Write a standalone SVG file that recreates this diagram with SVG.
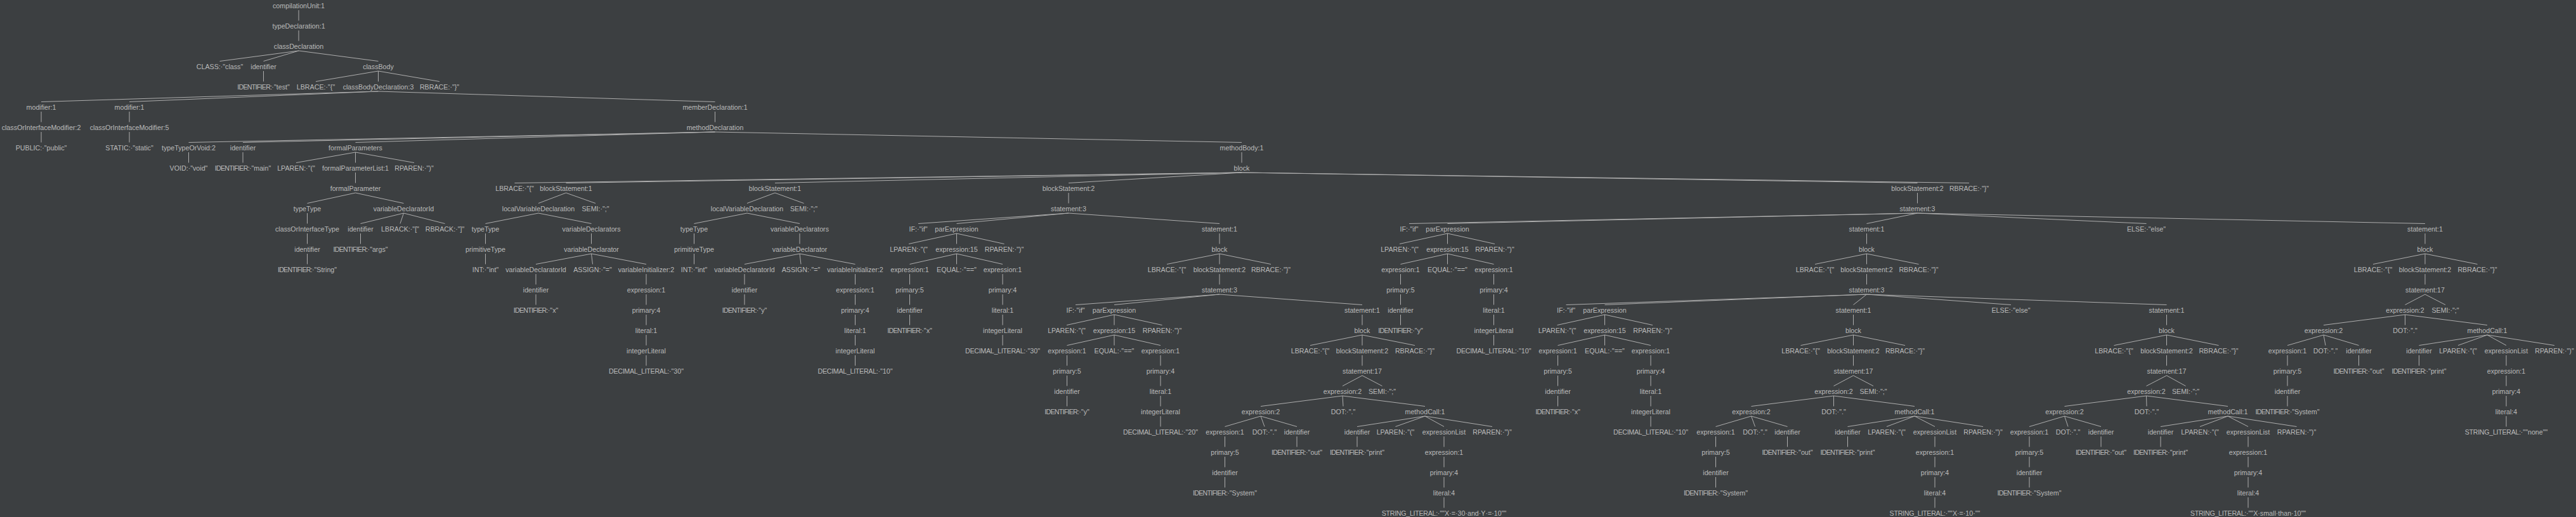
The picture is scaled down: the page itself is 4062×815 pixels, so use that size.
<svg xmlns="http://www.w3.org/2000/svg" width="4062" height="815" viewBox="0 0 4062 815">
<style>
text{font-family:"Liberation Sans",Arial,sans-serif;font-size:10.7px;fill:#bbbbbb;text-anchor:middle}
.i{letter-spacing:-0.75px}
.l{letter-spacing:-0.3px}
#edges line{stroke:#aeaeae;stroke-width:1}
</style>
<rect x="0" y="0" width="4062" height="815" fill="#3c3f41"/>
<g id="edges">
<line x1="471" y1="16" x2="471" y2="32.5"/>
<line x1="471" y1="48" x2="471" y2="64.5"/>
<line x1="471" y1="80" x2="346.5" y2="96.5"/>
<line x1="471" y1="80" x2="415.5" y2="96.5"/>
<line x1="471" y1="80" x2="596.5" y2="96.5"/>
<line x1="415.5" y1="112" x2="415.5" y2="128.5"/>
<line x1="596.5" y1="112" x2="498" y2="128.5"/>
<line x1="596.5" y1="112" x2="596.5" y2="128.5"/>
<line x1="596.5" y1="112" x2="693" y2="128.5"/>
<line x1="596.5" y1="144" x2="65" y2="160.5"/>
<line x1="596.5" y1="144" x2="204" y2="160.5"/>
<line x1="596.5" y1="144" x2="1127.5" y2="160.5"/>
<line x1="65" y1="176" x2="65" y2="192.5"/>
<line x1="204" y1="176" x2="204" y2="192.5"/>
<line x1="1127.5" y1="176" x2="1127.5" y2="192.5"/>
<line x1="65" y1="208" x2="65" y2="224.5"/>
<line x1="204" y1="208" x2="204" y2="224.5"/>
<line x1="1127.5" y1="208" x2="297.5" y2="224.5"/>
<line x1="1127.5" y1="208" x2="383" y2="224.5"/>
<line x1="1127.5" y1="208" x2="560.5" y2="224.5"/>
<line x1="1127.5" y1="208" x2="1958" y2="224.5"/>
<line x1="297.5" y1="240" x2="297.5" y2="256.5"/>
<line x1="383" y1="240" x2="383" y2="256.5"/>
<line x1="560.5" y1="240" x2="467" y2="256.5"/>
<line x1="560.5" y1="240" x2="560.5" y2="256.5"/>
<line x1="560.5" y1="240" x2="653" y2="256.5"/>
<line x1="1958" y1="240" x2="1958" y2="256.5"/>
<line x1="560.5" y1="272" x2="560.5" y2="288.5"/>
<line x1="1958" y1="272" x2="811.5" y2="288.5"/>
<line x1="1958" y1="272" x2="892.5" y2="288.5"/>
<line x1="1958" y1="272" x2="1222" y2="288.5"/>
<line x1="1958" y1="272" x2="1685" y2="288.5"/>
<line x1="1958" y1="272" x2="3023.5" y2="288.5"/>
<line x1="1958" y1="272" x2="3105" y2="288.5"/>
<line x1="560.5" y1="304" x2="484.5" y2="320.5"/>
<line x1="560.5" y1="304" x2="636.5" y2="320.5"/>
<line x1="892.5" y1="304" x2="849" y2="320.5"/>
<line x1="892.5" y1="304" x2="939" y2="320.5"/>
<line x1="1222" y1="304" x2="1178" y2="320.5"/>
<line x1="1222" y1="304" x2="1267.5" y2="320.5"/>
<line x1="1685" y1="304" x2="1685" y2="320.5"/>
<line x1="3023.5" y1="304" x2="3023.5" y2="320.5"/>
<line x1="484.5" y1="336" x2="484.5" y2="352.5"/>
<line x1="636.5" y1="336" x2="568.5" y2="352.5"/>
<line x1="636.5" y1="336" x2="631" y2="352.5"/>
<line x1="636.5" y1="336" x2="701.5" y2="352.5"/>
<line x1="849" y1="336" x2="765.5" y2="352.5"/>
<line x1="849" y1="336" x2="932.5" y2="352.5"/>
<line x1="1178" y1="336" x2="1094.5" y2="352.5"/>
<line x1="1178" y1="336" x2="1261" y2="352.5"/>
<line x1="1685" y1="336" x2="1448" y2="352.5"/>
<line x1="1685" y1="336" x2="1508.5" y2="352.5"/>
<line x1="1685" y1="336" x2="1923" y2="352.5"/>
<line x1="3023.5" y1="336" x2="2222" y2="352.5"/>
<line x1="3023.5" y1="336" x2="2282.5" y2="352.5"/>
<line x1="3023.5" y1="336" x2="2943.5" y2="352.5"/>
<line x1="3023.5" y1="336" x2="3384.5" y2="352.5"/>
<line x1="3023.5" y1="336" x2="3824" y2="352.5"/>
<line x1="484.5" y1="368" x2="484.5" y2="384.5"/>
<line x1="568.5" y1="368" x2="568.5" y2="384.5"/>
<line x1="765.5" y1="368" x2="765.5" y2="384.5"/>
<line x1="932.5" y1="368" x2="932.5" y2="384.5"/>
<line x1="1094.5" y1="368" x2="1094.5" y2="384.5"/>
<line x1="1261" y1="368" x2="1261" y2="384.5"/>
<line x1="1508.5" y1="368" x2="1433" y2="384.5"/>
<line x1="1508.5" y1="368" x2="1508.5" y2="384.5"/>
<line x1="1508.5" y1="368" x2="1583.5" y2="384.5"/>
<line x1="1923" y1="368" x2="1923" y2="384.5"/>
<line x1="2282.5" y1="368" x2="2207" y2="384.5"/>
<line x1="2282.5" y1="368" x2="2282.5" y2="384.5"/>
<line x1="2282.5" y1="368" x2="2357" y2="384.5"/>
<line x1="2943.5" y1="368" x2="2943.5" y2="384.5"/>
<line x1="3824" y1="368" x2="3824" y2="384.5"/>
<line x1="484.5" y1="400" x2="484.5" y2="416.5"/>
<line x1="765.5" y1="400" x2="765.5" y2="416.5"/>
<line x1="932.5" y1="400" x2="845" y2="416.5"/>
<line x1="932.5" y1="400" x2="934.5" y2="416.5"/>
<line x1="932.5" y1="400" x2="1019" y2="416.5"/>
<line x1="1094.5" y1="400" x2="1094.5" y2="416.5"/>
<line x1="1261" y1="400" x2="1174" y2="416.5"/>
<line x1="1261" y1="400" x2="1263" y2="416.5"/>
<line x1="1261" y1="400" x2="1348.5" y2="416.5"/>
<line x1="1508.5" y1="400" x2="1434.5" y2="416.5"/>
<line x1="1508.5" y1="400" x2="1508.5" y2="416.5"/>
<line x1="1508.5" y1="400" x2="1581" y2="416.5"/>
<line x1="1923" y1="400" x2="1840" y2="416.5"/>
<line x1="1923" y1="400" x2="1923" y2="416.5"/>
<line x1="1923" y1="400" x2="2004" y2="416.5"/>
<line x1="2282.5" y1="400" x2="2208.5" y2="416.5"/>
<line x1="2282.5" y1="400" x2="2282.5" y2="416.5"/>
<line x1="2282.5" y1="400" x2="2355.5" y2="416.5"/>
<line x1="2943.5" y1="400" x2="2862" y2="416.5"/>
<line x1="2943.5" y1="400" x2="2943.5" y2="416.5"/>
<line x1="2943.5" y1="400" x2="3025.5" y2="416.5"/>
<line x1="3824" y1="400" x2="3742" y2="416.5"/>
<line x1="3824" y1="400" x2="3824" y2="416.5"/>
<line x1="3824" y1="400" x2="3906.5" y2="416.5"/>
<line x1="845" y1="432" x2="845" y2="448.5"/>
<line x1="1019" y1="432" x2="1019" y2="448.5"/>
<line x1="1174" y1="432" x2="1174" y2="448.5"/>
<line x1="1348.5" y1="432" x2="1348.5" y2="448.5"/>
<line x1="1434.5" y1="432" x2="1434.5" y2="448.5"/>
<line x1="1581" y1="432" x2="1581" y2="448.5"/>
<line x1="1923" y1="432" x2="1923" y2="448.5"/>
<line x1="2208.5" y1="432" x2="2208.5" y2="448.5"/>
<line x1="2355.5" y1="432" x2="2355.5" y2="448.5"/>
<line x1="2943.5" y1="432" x2="2943.5" y2="448.5"/>
<line x1="3824" y1="432" x2="3824" y2="448.5"/>
<line x1="845" y1="464" x2="845" y2="480.5"/>
<line x1="1019" y1="464" x2="1019" y2="480.5"/>
<line x1="1174" y1="464" x2="1174" y2="480.5"/>
<line x1="1348.5" y1="464" x2="1348.5" y2="480.5"/>
<line x1="1434.5" y1="464" x2="1434.5" y2="480.5"/>
<line x1="1581" y1="464" x2="1581" y2="480.5"/>
<line x1="1923" y1="464" x2="1696" y2="480.5"/>
<line x1="1923" y1="464" x2="1757" y2="480.5"/>
<line x1="1923" y1="464" x2="2148" y2="480.5"/>
<line x1="2208.5" y1="464" x2="2208.5" y2="480.5"/>
<line x1="2355.5" y1="464" x2="2355.5" y2="480.5"/>
<line x1="2943.5" y1="464" x2="2469.5" y2="480.5"/>
<line x1="2943.5" y1="464" x2="2530.5" y2="480.5"/>
<line x1="2943.5" y1="464" x2="2922.5" y2="480.5"/>
<line x1="2943.5" y1="464" x2="3171" y2="480.5"/>
<line x1="2943.5" y1="464" x2="3416.5" y2="480.5"/>
<line x1="3824" y1="464" x2="3792.5" y2="480.5"/>
<line x1="3824" y1="464" x2="3856" y2="480.5"/>
<line x1="1019" y1="496" x2="1019" y2="512.5"/>
<line x1="1348.5" y1="496" x2="1348.5" y2="512.5"/>
<line x1="1434.5" y1="496" x2="1434.5" y2="512.5"/>
<line x1="1581" y1="496" x2="1581" y2="512.5"/>
<line x1="1757" y1="496" x2="1682" y2="512.5"/>
<line x1="1757" y1="496" x2="1757" y2="512.5"/>
<line x1="1757" y1="496" x2="1832.5" y2="512.5"/>
<line x1="2148" y1="496" x2="2148" y2="512.5"/>
<line x1="2208.5" y1="496" x2="2208.5" y2="512.5"/>
<line x1="2355.5" y1="496" x2="2355.5" y2="512.5"/>
<line x1="2530.5" y1="496" x2="2455.5" y2="512.5"/>
<line x1="2530.5" y1="496" x2="2530.5" y2="512.5"/>
<line x1="2530.5" y1="496" x2="2606" y2="512.5"/>
<line x1="2922.5" y1="496" x2="2922.5" y2="512.5"/>
<line x1="3416.5" y1="496" x2="3416.5" y2="512.5"/>
<line x1="3792.5" y1="496" x2="3664" y2="512.5"/>
<line x1="3792.5" y1="496" x2="3792.5" y2="512.5"/>
<line x1="3792.5" y1="496" x2="3922" y2="512.5"/>
<line x1="1019" y1="528" x2="1019" y2="544.5"/>
<line x1="1348.5" y1="528" x2="1348.5" y2="544.5"/>
<line x1="1581" y1="528" x2="1581" y2="544.5"/>
<line x1="1757" y1="528" x2="1682.5" y2="544.5"/>
<line x1="1757" y1="528" x2="1757" y2="544.5"/>
<line x1="1757" y1="528" x2="1830" y2="544.5"/>
<line x1="2148" y1="528" x2="2066" y2="544.5"/>
<line x1="2148" y1="528" x2="2148" y2="544.5"/>
<line x1="2148" y1="528" x2="2231" y2="544.5"/>
<line x1="2355.5" y1="528" x2="2355.5" y2="544.5"/>
<line x1="2530.5" y1="528" x2="2456.5" y2="544.5"/>
<line x1="2530.5" y1="528" x2="2530.5" y2="544.5"/>
<line x1="2530.5" y1="528" x2="2603" y2="544.5"/>
<line x1="2922.5" y1="528" x2="2839.5" y2="544.5"/>
<line x1="2922.5" y1="528" x2="2922.5" y2="544.5"/>
<line x1="2922.5" y1="528" x2="3004" y2="544.5"/>
<line x1="3416.5" y1="528" x2="3333.5" y2="544.5"/>
<line x1="3416.5" y1="528" x2="3416.5" y2="544.5"/>
<line x1="3416.5" y1="528" x2="3498.5" y2="544.5"/>
<line x1="3664" y1="528" x2="3607" y2="544.5"/>
<line x1="3664" y1="528" x2="3667" y2="544.5"/>
<line x1="3664" y1="528" x2="3719.5" y2="544.5"/>
<line x1="3922" y1="528" x2="3814.5" y2="544.5"/>
<line x1="3922" y1="528" x2="3876" y2="544.5"/>
<line x1="3922" y1="528" x2="3952" y2="544.5"/>
<line x1="3922" y1="528" x2="4028" y2="544.5"/>
<line x1="1019" y1="560" x2="1019" y2="576.5"/>
<line x1="1348.5" y1="560" x2="1348.5" y2="576.5"/>
<line x1="1682.5" y1="560" x2="1682.5" y2="576.5"/>
<line x1="1830" y1="560" x2="1830" y2="576.5"/>
<line x1="2148" y1="560" x2="2148" y2="576.5"/>
<line x1="2456.5" y1="560" x2="2456.5" y2="576.5"/>
<line x1="2603" y1="560" x2="2603" y2="576.5"/>
<line x1="2922.5" y1="560" x2="2922.5" y2="576.5"/>
<line x1="3416.5" y1="560" x2="3416.5" y2="576.5"/>
<line x1="3607" y1="560" x2="3607" y2="576.5"/>
<line x1="3719.5" y1="560" x2="3719.5" y2="576.5"/>
<line x1="3814.5" y1="560" x2="3814.5" y2="576.5"/>
<line x1="3952" y1="560" x2="3952" y2="576.5"/>
<line x1="1682.5" y1="592" x2="1682.5" y2="608.5"/>
<line x1="1830" y1="592" x2="1830" y2="608.5"/>
<line x1="2148" y1="592" x2="2117" y2="608.5"/>
<line x1="2148" y1="592" x2="2179.5" y2="608.5"/>
<line x1="2456.5" y1="592" x2="2456.5" y2="608.5"/>
<line x1="2603" y1="592" x2="2603" y2="608.5"/>
<line x1="2922.5" y1="592" x2="2891.5" y2="608.5"/>
<line x1="2922.5" y1="592" x2="2954" y2="608.5"/>
<line x1="3416.5" y1="592" x2="3384.5" y2="608.5"/>
<line x1="3416.5" y1="592" x2="3446.5" y2="608.5"/>
<line x1="3607" y1="592" x2="3607" y2="608.5"/>
<line x1="3952" y1="592" x2="3952" y2="608.5"/>
<line x1="1682.5" y1="624" x2="1682.5" y2="640.5"/>
<line x1="1830" y1="624" x2="1830" y2="640.5"/>
<line x1="2117" y1="624" x2="1988" y2="640.5"/>
<line x1="2117" y1="624" x2="2118" y2="640.5"/>
<line x1="2117" y1="624" x2="2247" y2="640.5"/>
<line x1="2456.5" y1="624" x2="2456.5" y2="640.5"/>
<line x1="2603" y1="624" x2="2603" y2="640.5"/>
<line x1="2891.5" y1="624" x2="2761.5" y2="640.5"/>
<line x1="2891.5" y1="624" x2="2891.5" y2="640.5"/>
<line x1="2891.5" y1="624" x2="3019" y2="640.5"/>
<line x1="3384.5" y1="624" x2="3255.5" y2="640.5"/>
<line x1="3384.5" y1="624" x2="3385" y2="640.5"/>
<line x1="3384.5" y1="624" x2="3513" y2="640.5"/>
<line x1="3607" y1="624" x2="3607" y2="640.5"/>
<line x1="3952" y1="624" x2="3952" y2="640.5"/>
<line x1="1830" y1="656" x2="1830" y2="672.5"/>
<line x1="1988" y1="656" x2="1931.5" y2="672.5"/>
<line x1="1988" y1="656" x2="1994" y2="672.5"/>
<line x1="1988" y1="656" x2="2045" y2="672.5"/>
<line x1="2247" y1="656" x2="2140" y2="672.5"/>
<line x1="2247" y1="656" x2="2200.5" y2="672.5"/>
<line x1="2247" y1="656" x2="2277" y2="672.5"/>
<line x1="2247" y1="656" x2="2353" y2="672.5"/>
<line x1="2603" y1="656" x2="2603" y2="672.5"/>
<line x1="2761.5" y1="656" x2="2705.5" y2="672.5"/>
<line x1="2761.5" y1="656" x2="2767.5" y2="672.5"/>
<line x1="2761.5" y1="656" x2="2818.5" y2="672.5"/>
<line x1="3019" y1="656" x2="2913.5" y2="672.5"/>
<line x1="3019" y1="656" x2="2975" y2="672.5"/>
<line x1="3019" y1="656" x2="3051" y2="672.5"/>
<line x1="3019" y1="656" x2="3127" y2="672.5"/>
<line x1="3255.5" y1="656" x2="3200" y2="672.5"/>
<line x1="3255.5" y1="656" x2="3261" y2="672.5"/>
<line x1="3255.5" y1="656" x2="3313" y2="672.5"/>
<line x1="3513" y1="656" x2="3407" y2="672.5"/>
<line x1="3513" y1="656" x2="3469" y2="672.5"/>
<line x1="3513" y1="656" x2="3545" y2="672.5"/>
<line x1="3513" y1="656" x2="3621.5" y2="672.5"/>
<line x1="3952" y1="656" x2="3952" y2="672.5"/>
<line x1="1931.5" y1="688" x2="1931.5" y2="704.5"/>
<line x1="2045" y1="688" x2="2045" y2="704.5"/>
<line x1="2140" y1="688" x2="2140" y2="704.5"/>
<line x1="2277" y1="688" x2="2277" y2="704.5"/>
<line x1="2705.5" y1="688" x2="2705.5" y2="704.5"/>
<line x1="2818.5" y1="688" x2="2818.5" y2="704.5"/>
<line x1="2913.5" y1="688" x2="2913.5" y2="704.5"/>
<line x1="3051" y1="688" x2="3051" y2="704.5"/>
<line x1="3200" y1="688" x2="3200" y2="704.5"/>
<line x1="3313" y1="688" x2="3313" y2="704.5"/>
<line x1="3407" y1="688" x2="3407" y2="704.5"/>
<line x1="3545" y1="688" x2="3545" y2="704.5"/>
<line x1="1931.5" y1="720" x2="1931.5" y2="736.5"/>
<line x1="2277" y1="720" x2="2277" y2="736.5"/>
<line x1="2705.5" y1="720" x2="2705.5" y2="736.5"/>
<line x1="3051" y1="720" x2="3051" y2="736.5"/>
<line x1="3200" y1="720" x2="3200" y2="736.5"/>
<line x1="3545" y1="720" x2="3545" y2="736.5"/>
<line x1="1931.5" y1="752" x2="1931.5" y2="768.5"/>
<line x1="2277" y1="752" x2="2277" y2="768.5"/>
<line x1="2705.5" y1="752" x2="2705.5" y2="768.5"/>
<line x1="3051" y1="752" x2="3051" y2="768.5"/>
<line x1="3200" y1="752" x2="3200" y2="768.5"/>
<line x1="3545" y1="752" x2="3545" y2="768.5"/>
<line x1="2277" y1="784" x2="2277" y2="800.5"/>
<line x1="3051" y1="784" x2="3051" y2="800.5"/>
<line x1="3545" y1="784" x2="3545" y2="800.5"/>
</g>
<g id="n0"><text x="471" y="12.5">compilationUnit:1</text></g>
<g id="n1"><text x="471" y="44.5">typeDeclaration:1</text></g>
<g id="n2"><text x="471" y="76.5">classDeclaration</text></g>
<g id="n3"><text x="346.5" y="108.5">CLASS:·"class"</text></g>
<g id="n4"><text x="415.5" y="108.5">identifier</text></g>
<g id="n5"><text x="596.5" y="108.5">classBody</text></g>
<g id="n6"><text x="415.5" y="140.5"><tspan class="i">IDENTIFIER:</tspan>·"test"</text></g>
<g id="n7"><text x="498" y="140.5">LBRACE:·"{"</text></g>
<g id="n8"><text x="596.5" y="140.5">classBodyDeclaration:3</text></g>
<g id="n9"><text x="693" y="140.5">RBRACE:·"}"</text></g>
<g id="n10"><text x="65" y="172.5">modifier:1</text></g>
<g id="n11"><text x="204" y="172.5">modifier:1</text></g>
<g id="n12"><text x="1127.5" y="172.5">memberDeclaration:1</text></g>
<g id="n13"><text x="65" y="204.5">classOrInterfaceModifier:2</text></g>
<g id="n14"><text x="204" y="204.5">classOrInterfaceModifier:5</text></g>
<g id="n15"><text x="1127.5" y="204.5">methodDeclaration</text></g>
<g id="n16"><text x="65" y="236.5">PUBLIC:·"public"</text></g>
<g id="n17"><text x="204" y="236.5">STATIC:·"static"</text></g>
<g id="n18"><text x="297.5" y="236.5">typeTypeOrVoid:2</text></g>
<g id="n19"><text x="383" y="236.5">identifier</text></g>
<g id="n20"><text x="560.5" y="236.5">formalParameters</text></g>
<g id="n21"><text x="1958" y="236.5">methodBody:1</text></g>
<g id="n22"><text x="297.5" y="268.5">VOID:·"void"</text></g>
<g id="n23"><text x="383" y="268.5"><tspan class="i">IDENTIFIER:</tspan>·"main"</text></g>
<g id="n24"><text x="467" y="268.5">LPAREN:·"("</text></g>
<g id="n25"><text x="560.5" y="268.5">formalParameterList:1</text></g>
<g id="n26"><text x="653" y="268.5">RPAREN:·")"</text></g>
<g id="n27"><text x="1958" y="268.5">block</text></g>
<g id="n28"><text x="560.5" y="300.5">formalParameter</text></g>
<g id="n29"><text x="484.5" y="332.5">typeType</text></g>
<g id="n30"><text x="636.5" y="332.5">variableDeclaratorId</text></g>
<g id="n31"><text x="484.5" y="364.5">classOrInterfaceType</text></g>
<g id="n32"><text x="568.5" y="364.5">identifier</text></g>
<g id="n33"><text x="631" y="364.5">LBRACK:·"["</text></g>
<g id="n34"><text x="701.5" y="364.5">RBRACK:·"]"</text></g>
<g id="n35"><text x="484.5" y="396.5">identifier</text></g>
<g id="n36"><text x="568.5" y="396.5"><tspan class="i">IDENTIFIER:</tspan>·"args"</text></g>
<g id="n37"><text x="484.5" y="428.5"><tspan class="i">IDENTIFIER:</tspan>·"String"</text></g>
<g id="n38"><text x="811.5" y="300.5">LBRACE:·"{"</text></g>
<g id="n39"><text x="892.5" y="300.5">blockStatement:1</text></g>
<g id="n40"><text x="1222" y="300.5">blockStatement:1</text></g>
<g id="n41"><text x="1685" y="300.5">blockStatement:2</text></g>
<g id="n42"><text x="3023.5" y="300.5">blockStatement:2</text></g>
<g id="n43"><text x="3105" y="300.5">RBRACE:·"}"</text></g>
<g id="n44"><text x="849" y="332.5">localVariableDeclaration</text></g>
<g id="n45"><text x="939" y="332.5">SEMI:·";"</text></g>
<g id="n46"><text x="765.5" y="364.5">typeType</text></g>
<g id="n47"><text x="932.5" y="364.5">variableDeclarators</text></g>
<g id="n48"><text x="765.5" y="396.5">primitiveType</text></g>
<g id="n49"><text x="932.5" y="396.5">variableDeclarator</text></g>
<g id="n50"><text x="765.5" y="428.5">INT:·"int"</text></g>
<g id="n51"><text x="845" y="428.5">variableDeclaratorId</text></g>
<g id="n52"><text x="934.5" y="428.5">ASSIGN:·"="</text></g>
<g id="n53"><text x="1019" y="428.5">variableInitializer:2</text></g>
<g id="n54"><text x="845" y="460.5">identifier</text></g>
<g id="n55"><text x="1019" y="460.5">expression:1</text></g>
<g id="n56"><text x="845" y="492.5"><tspan class="i">IDENTIFIER:</tspan>·"x"</text></g>
<g id="n57"><text x="1019" y="492.5">primary:4</text></g>
<g id="n58"><text x="1019" y="524.5">literal:1</text></g>
<g id="n59"><text x="1019" y="556.5">integerLiteral</text></g>
<g id="n60"><text x="1019" y="588.5"><tspan class="l">DECIMAL_LITERAL:</tspan>·"30"</text></g>
<g id="n61"><text x="1178" y="332.5">localVariableDeclaration</text></g>
<g id="n62"><text x="1267.5" y="332.5">SEMI:·";"</text></g>
<g id="n63"><text x="1094.5" y="364.5">typeType</text></g>
<g id="n64"><text x="1261" y="364.5">variableDeclarators</text></g>
<g id="n65"><text x="1094.5" y="396.5">primitiveType</text></g>
<g id="n66"><text x="1261" y="396.5">variableDeclarator</text></g>
<g id="n67"><text x="1094.5" y="428.5">INT:·"int"</text></g>
<g id="n68"><text x="1174" y="428.5">variableDeclaratorId</text></g>
<g id="n69"><text x="1263" y="428.5">ASSIGN:·"="</text></g>
<g id="n70"><text x="1348.5" y="428.5">variableInitializer:2</text></g>
<g id="n71"><text x="1174" y="460.5">identifier</text></g>
<g id="n72"><text x="1348.5" y="460.5">expression:1</text></g>
<g id="n73"><text x="1174" y="492.5"><tspan class="i">IDENTIFIER:</tspan>·"y"</text></g>
<g id="n74"><text x="1348.5" y="492.5">primary:4</text></g>
<g id="n75"><text x="1348.5" y="524.5">literal:1</text></g>
<g id="n76"><text x="1348.5" y="556.5">integerLiteral</text></g>
<g id="n77"><text x="1348.5" y="588.5"><tspan class="l">DECIMAL_LITERAL:</tspan>·"10"</text></g>
<g id="n78"><text x="1685" y="332.5">statement:3</text></g>
<g id="n79"><text x="1448" y="364.5">IF:·"if"</text></g>
<g id="n80"><text x="1508.5" y="364.5">parExpression</text></g>
<g id="n81"><text x="1923" y="364.5">statement:1</text></g>
<g id="n82"><text x="1433" y="396.5">LPAREN:·"("</text></g>
<g id="n83"><text x="1508.5" y="396.5">expression:15</text></g>
<g id="n84"><text x="1583.5" y="396.5">RPAREN:·")"</text></g>
<g id="n85"><text x="1923" y="396.5">block</text></g>
<g id="n86"><text x="1434.5" y="428.5">expression:1</text></g>
<g id="n87"><text x="1508.5" y="428.5">EQUAL:·"=="</text></g>
<g id="n88"><text x="1581" y="428.5">expression:1</text></g>
<g id="n89"><text x="1840" y="428.5">LBRACE:·"{"</text></g>
<g id="n90"><text x="1923" y="428.5">blockStatement:2</text></g>
<g id="n91"><text x="2004" y="428.5">RBRACE:·"}"</text></g>
<g id="n92"><text x="1434.5" y="460.5">primary:5</text></g>
<g id="n93"><text x="1581" y="460.5">primary:4</text></g>
<g id="n94"><text x="1923" y="460.5">statement:3</text></g>
<g id="n95"><text x="1434.5" y="492.5">identifier</text></g>
<g id="n96"><text x="1581" y="492.5">literal:1</text></g>
<g id="n97"><text x="1696" y="492.5">IF:·"if"</text></g>
<g id="n98"><text x="1757" y="492.5">parExpression</text></g>
<g id="n99"><text x="2148" y="492.5">statement:1</text></g>
<g id="n100"><text x="1434.5" y="524.5"><tspan class="i">IDENTIFIER:</tspan>·"x"</text></g>
<g id="n101"><text x="1581" y="524.5">integerLiteral</text></g>
<g id="n102"><text x="1682" y="524.5">LPAREN:·"("</text></g>
<g id="n103"><text x="1757" y="524.5">expression:15</text></g>
<g id="n104"><text x="1832.5" y="524.5">RPAREN:·")"</text></g>
<g id="n105"><text x="2148" y="524.5">block</text></g>
<g id="n106"><text x="1581" y="556.5"><tspan class="l">DECIMAL_LITERAL:</tspan>·"30"</text></g>
<g id="n107"><text x="1682.5" y="556.5">expression:1</text></g>
<g id="n108"><text x="1757" y="556.5">EQUAL:·"=="</text></g>
<g id="n109"><text x="1830" y="556.5">expression:1</text></g>
<g id="n110"><text x="2066" y="556.5">LBRACE:·"{"</text></g>
<g id="n111"><text x="2148" y="556.5">blockStatement:2</text></g>
<g id="n112"><text x="2231" y="556.5">RBRACE:·"}"</text></g>
<g id="n113"><text x="1682.5" y="588.5">primary:5</text></g>
<g id="n114"><text x="1830" y="588.5">primary:4</text></g>
<g id="n115"><text x="2148" y="588.5">statement:17</text></g>
<g id="n116"><text x="1682.5" y="620.5">identifier</text></g>
<g id="n117"><text x="1830" y="620.5">literal:1</text></g>
<g id="n118"><text x="2117" y="620.5">expression:2</text></g>
<g id="n119"><text x="2179.5" y="620.5">SEMI:·";"</text></g>
<g id="n120"><text x="1682.5" y="652.5"><tspan class="i">IDENTIFIER:</tspan>·"y"</text></g>
<g id="n121"><text x="1830" y="652.5">integerLiteral</text></g>
<g id="n122"><text x="1988" y="652.5">expression:2</text></g>
<g id="n123"><text x="2118" y="652.5">DOT:·"."</text></g>
<g id="n124"><text x="2247" y="652.5">methodCall:1</text></g>
<g id="n125"><text x="1830" y="684.5"><tspan class="l">DECIMAL_LITERAL:</tspan>·"20"</text></g>
<g id="n126"><text x="1931.5" y="684.5">expression:1</text></g>
<g id="n127"><text x="1994" y="684.5">DOT:·"."</text></g>
<g id="n128"><text x="2045" y="684.5">identifier</text></g>
<g id="n129"><text x="2140" y="684.5">identifier</text></g>
<g id="n130"><text x="2200.5" y="684.5">LPAREN:·"("</text></g>
<g id="n131"><text x="2277" y="684.5">expressionList</text></g>
<g id="n132"><text x="2353" y="684.5">RPAREN:·")"</text></g>
<g id="n133"><text x="1931.5" y="716.5">primary:5</text></g>
<g id="n134"><text x="2045" y="716.5"><tspan class="i">IDENTIFIER:</tspan>·"out"</text></g>
<g id="n135"><text x="2140" y="716.5"><tspan class="i">IDENTIFIER:</tspan>·"print"</text></g>
<g id="n136"><text x="2277" y="716.5">expression:1</text></g>
<g id="n137"><text x="1931.5" y="748.5">identifier</text></g>
<g id="n138"><text x="2277" y="748.5">primary:4</text></g>
<g id="n139"><text x="1931.5" y="780.5"><tspan class="i">IDENTIFIER:</tspan>·"System"</text></g>
<g id="n140"><text x="2277" y="780.5">literal:4</text></g>
<g id="n141"><text x="2277" y="812.5"><tspan class="l">STRING_LITERAL:</tspan>·""X·=·30·and·Y·=·10""</text></g>
<g id="n142"><text x="3023.5" y="332.5">statement:3</text></g>
<g id="n143"><text x="2222" y="364.5">IF:·"if"</text></g>
<g id="n144"><text x="2282.5" y="364.5">parExpression</text></g>
<g id="n145"><text x="2943.5" y="364.5">statement:1</text></g>
<g id="n146"><text x="3384.5" y="364.5">ELSE:·"else"</text></g>
<g id="n147"><text x="3824" y="364.5">statement:1</text></g>
<g id="n148"><text x="2207" y="396.5">LPAREN:·"("</text></g>
<g id="n149"><text x="2282.5" y="396.5">expression:15</text></g>
<g id="n150"><text x="2357" y="396.5">RPAREN:·")"</text></g>
<g id="n151"><text x="2943.5" y="396.5">block</text></g>
<g id="n152"><text x="3824" y="396.5">block</text></g>
<g id="n153"><text x="2208.5" y="428.5">expression:1</text></g>
<g id="n154"><text x="2282.5" y="428.5">EQUAL:·"=="</text></g>
<g id="n155"><text x="2355.5" y="428.5">expression:1</text></g>
<g id="n156"><text x="2862" y="428.5">LBRACE:·"{"</text></g>
<g id="n157"><text x="2943.5" y="428.5">blockStatement:2</text></g>
<g id="n158"><text x="3025.5" y="428.5">RBRACE:·"}"</text></g>
<g id="n159"><text x="3742" y="428.5">LBRACE:·"{"</text></g>
<g id="n160"><text x="3824" y="428.5">blockStatement:2</text></g>
<g id="n161"><text x="3906.5" y="428.5">RBRACE:·"}"</text></g>
<g id="n162"><text x="2208.5" y="460.5">primary:5</text></g>
<g id="n163"><text x="2355.5" y="460.5">primary:4</text></g>
<g id="n164"><text x="2943.5" y="460.5">statement:3</text></g>
<g id="n165"><text x="3824" y="460.5">statement:17</text></g>
<g id="n166"><text x="2208.5" y="492.5">identifier</text></g>
<g id="n167"><text x="2355.5" y="492.5">literal:1</text></g>
<g id="n168"><text x="2469.5" y="492.5">IF:·"if"</text></g>
<g id="n169"><text x="2530.5" y="492.5">parExpression</text></g>
<g id="n170"><text x="2922.5" y="492.5">statement:1</text></g>
<g id="n171"><text x="3171" y="492.5">ELSE:·"else"</text></g>
<g id="n172"><text x="3416.5" y="492.5">statement:1</text></g>
<g id="n173"><text x="3792.5" y="492.5">expression:2</text></g>
<g id="n174"><text x="3856" y="492.5">SEMI:·";"</text></g>
<g id="n175"><text x="2208.5" y="524.5"><tspan class="i">IDENTIFIER:</tspan>·"y"</text></g>
<g id="n176"><text x="2355.5" y="524.5">integerLiteral</text></g>
<g id="n177"><text x="2455.5" y="524.5">LPAREN:·"("</text></g>
<g id="n178"><text x="2530.5" y="524.5">expression:15</text></g>
<g id="n179"><text x="2606" y="524.5">RPAREN:·")"</text></g>
<g id="n180"><text x="2922.5" y="524.5">block</text></g>
<g id="n181"><text x="3416.5" y="524.5">block</text></g>
<g id="n182"><text x="3664" y="524.5">expression:2</text></g>
<g id="n183"><text x="3792.5" y="524.5">DOT:·"."</text></g>
<g id="n184"><text x="3922" y="524.5">methodCall:1</text></g>
<g id="n185"><text x="2355.5" y="556.5"><tspan class="l">DECIMAL_LITERAL:</tspan>·"10"</text></g>
<g id="n186"><text x="2456.5" y="556.5">expression:1</text></g>
<g id="n187"><text x="2530.5" y="556.5">EQUAL:·"=="</text></g>
<g id="n188"><text x="2603" y="556.5">expression:1</text></g>
<g id="n189"><text x="2839.5" y="556.5">LBRACE:·"{"</text></g>
<g id="n190"><text x="2922.5" y="556.5">blockStatement:2</text></g>
<g id="n191"><text x="3004" y="556.5">RBRACE:·"}"</text></g>
<g id="n192"><text x="3333.5" y="556.5">LBRACE:·"{"</text></g>
<g id="n193"><text x="3416.5" y="556.5">blockStatement:2</text></g>
<g id="n194"><text x="3498.5" y="556.5">RBRACE:·"}"</text></g>
<g id="n195"><text x="3607" y="556.5">expression:1</text></g>
<g id="n196"><text x="3667" y="556.5">DOT:·"."</text></g>
<g id="n197"><text x="3719.5" y="556.5">identifier</text></g>
<g id="n198"><text x="3814.5" y="556.5">identifier</text></g>
<g id="n199"><text x="3876" y="556.5">LPAREN:·"("</text></g>
<g id="n200"><text x="3952" y="556.5">expressionList</text></g>
<g id="n201"><text x="4028" y="556.5">RPAREN:·")"</text></g>
<g id="n202"><text x="2456.5" y="588.5">primary:5</text></g>
<g id="n203"><text x="2603" y="588.5">primary:4</text></g>
<g id="n204"><text x="2922.5" y="588.5">statement:17</text></g>
<g id="n205"><text x="3416.5" y="588.5">statement:17</text></g>
<g id="n206"><text x="3607" y="588.5">primary:5</text></g>
<g id="n207"><text x="3719.5" y="588.5"><tspan class="i">IDENTIFIER:</tspan>·"out"</text></g>
<g id="n208"><text x="3814.5" y="588.5"><tspan class="i">IDENTIFIER:</tspan>·"print"</text></g>
<g id="n209"><text x="3952" y="588.5">expression:1</text></g>
<g id="n210"><text x="2456.5" y="620.5">identifier</text></g>
<g id="n211"><text x="2603" y="620.5">literal:1</text></g>
<g id="n212"><text x="2891.5" y="620.5">expression:2</text></g>
<g id="n213"><text x="2954" y="620.5">SEMI:·";"</text></g>
<g id="n214"><text x="3384.5" y="620.5">expression:2</text></g>
<g id="n215"><text x="3446.5" y="620.5">SEMI:·";"</text></g>
<g id="n216"><text x="3607" y="620.5">identifier</text></g>
<g id="n217"><text x="3952" y="620.5">primary:4</text></g>
<g id="n218"><text x="2456.5" y="652.5"><tspan class="i">IDENTIFIER:</tspan>·"x"</text></g>
<g id="n219"><text x="2603" y="652.5">integerLiteral</text></g>
<g id="n220"><text x="2761.5" y="652.5">expression:2</text></g>
<g id="n221"><text x="2891.5" y="652.5">DOT:·"."</text></g>
<g id="n222"><text x="3019" y="652.5">methodCall:1</text></g>
<g id="n223"><text x="3255.5" y="652.5">expression:2</text></g>
<g id="n224"><text x="3385" y="652.5">DOT:·"."</text></g>
<g id="n225"><text x="3513" y="652.5">methodCall:1</text></g>
<g id="n226"><text x="3607" y="652.5"><tspan class="i">IDENTIFIER:</tspan>·"System"</text></g>
<g id="n227"><text x="3952" y="652.5">literal:4</text></g>
<g id="n228"><text x="2603" y="684.5"><tspan class="l">DECIMAL_LITERAL:</tspan>·"10"</text></g>
<g id="n229"><text x="2705.5" y="684.5">expression:1</text></g>
<g id="n230"><text x="2767.5" y="684.5">DOT:·"."</text></g>
<g id="n231"><text x="2818.5" y="684.5">identifier</text></g>
<g id="n232"><text x="2913.5" y="684.5">identifier</text></g>
<g id="n233"><text x="2975" y="684.5">LPAREN:·"("</text></g>
<g id="n234"><text x="3051" y="684.5">expressionList</text></g>
<g id="n235"><text x="3127" y="684.5">RPAREN:·")"</text></g>
<g id="n236"><text x="3200" y="684.5">expression:1</text></g>
<g id="n237"><text x="3261" y="684.5">DOT:·"."</text></g>
<g id="n238"><text x="3313" y="684.5">identifier</text></g>
<g id="n239"><text x="3407" y="684.5">identifier</text></g>
<g id="n240"><text x="3469" y="684.5">LPAREN:·"("</text></g>
<g id="n241"><text x="3545" y="684.5">expressionList</text></g>
<g id="n242"><text x="3621.5" y="684.5">RPAREN:·")"</text></g>
<g id="n243"><text x="3952" y="684.5"><tspan class="l">STRING_LITERAL:</tspan>·""none""</text></g>
<g id="n244"><text x="2705.5" y="716.5">primary:5</text></g>
<g id="n245"><text x="2818.5" y="716.5"><tspan class="i">IDENTIFIER:</tspan>·"out"</text></g>
<g id="n246"><text x="2913.5" y="716.5"><tspan class="i">IDENTIFIER:</tspan>·"print"</text></g>
<g id="n247"><text x="3051" y="716.5">expression:1</text></g>
<g id="n248"><text x="3200" y="716.5">primary:5</text></g>
<g id="n249"><text x="3313" y="716.5"><tspan class="i">IDENTIFIER:</tspan>·"out"</text></g>
<g id="n250"><text x="3407" y="716.5"><tspan class="i">IDENTIFIER:</tspan>·"print"</text></g>
<g id="n251"><text x="3545" y="716.5">expression:1</text></g>
<g id="n252"><text x="2705.5" y="748.5">identifier</text></g>
<g id="n253"><text x="3051" y="748.5">primary:4</text></g>
<g id="n254"><text x="3200" y="748.5">identifier</text></g>
<g id="n255"><text x="3545" y="748.5">primary:4</text></g>
<g id="n256"><text x="2705.5" y="780.5"><tspan class="i">IDENTIFIER:</tspan>·"System"</text></g>
<g id="n257"><text x="3051" y="780.5">literal:4</text></g>
<g id="n258"><text x="3200" y="780.5"><tspan class="i">IDENTIFIER:</tspan>·"System"</text></g>
<g id="n259"><text x="3545" y="780.5">literal:4</text></g>
<g id="n260"><text x="3051" y="812.5"><tspan class="l">STRING_LITERAL:</tspan>·""X·=·10·""</text></g>
<g id="n261"><text x="3545" y="812.5"><tspan class="l">STRING_LITERAL:</tspan>·""X·small·than·10""</text></g>
</svg>
